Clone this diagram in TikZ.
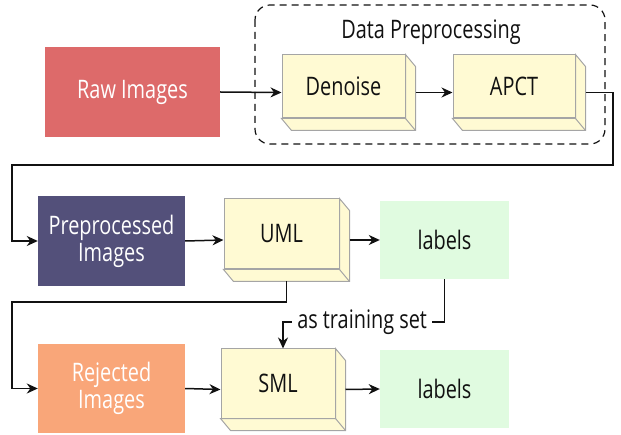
\documentclass[tikz,border=0pt]{standalone}
\usepackage{fontspec}
\setmainfont[FakeStretch=0.78]{Open Sans}
\usetikzlibrary{arrows.meta}
\definecolor{rawred}{HTML}{DD6A6A}
\definecolor{prepurple}{HTML}{53507A}
\definecolor{rejorange}{HTML}{F9A679}
\definecolor{labgreen}{HTML}{E0FBE0}
\definecolor{cubefill}{HTML}{FFFAD3}
\definecolor{cubeedge}{HTML}{A5A5A5}
\definecolor{ink}{HTML}{111111}
\newcommand\cubeside[1]{%
  \filldraw[fill=cubefill,draw=cubeedge,line width=1pt] (#1.north east) -- ++(10,12)
    -- ([shift={(10,12)}]#1.south east) -- ([shift={(10,12)}]#1.south west)
    -- (#1.south west) -- (#1.south east) -- cycle;
  \draw[cubeedge,line width=1pt] (#1.south east) -- ++(10,12);}

\begin{document}
\begin{tikzpicture}[x=1pt,y=-1pt,
  every node/.style={font=\fontsize{25.5}{27}\selectfont,text=ink,inner sep=0pt},
  flatbox/.style={minimum width=#1,text=white,align=center},
  cubebox/.style={fill=cubefill,draw=cubeedge,line width=1pt},
  flow/.style={draw=ink,line width=1.5pt,-{Stealth[length=11pt,width=10pt,inset=3.5pt]}}]

\useasboundingbox (0,0) rectangle (621,435);

% preprocessing group
\draw[ink,line width=1.2pt,dash pattern=on 7pt off 5pt,rounded corners=15pt] (255,5) rectangle (605,144);
\node[anchor=base] (group) at (431,39) {Data Preprocessing};

\node[flatbox=175pt,minimum height=90pt,fill=rawred] (raw) at (132.5,92) {Raw Images};
\node[cubebox,minimum width=123pt,minimum height=63pt] (denoise) at (343.5,86.5) {Denoise};
\node[cubebox,minimum width=122pt,minimum height=63pt] (apct) at (514,86.5) {APCT};
\cubeside{denoise}
\cubeside{apct}

\node[flatbox=147pt,minimum height=90pt,fill=prepurple] (pre) at (111.5,241) {Preprocessed\\Images};
\node[cubebox,minimum width=115pt,minimum height=70pt] (uml) at (281.5,234) {UML};
\node[minimum width=129pt,minimum height=78pt,fill=labgreen] (lab1) at (444.5,240) {labels};
\cubeside{uml}

\node[flatbox=147pt,minimum height=89pt,fill=rejorange] (rej) at (111.5,388.5) {Rejected\\Images};
\node[cubebox,minimum width=114pt,minimum height=69pt] (sml) at (278,383.5) {SML};
\node[minimum width=129pt,minimum height=78pt,fill=labgreen] (lab2) at (444.5,389) {labels};
\cubeside{sml}

\coordinate (railA) at (613,165);
\coordinate (railB) at (12,165);
\coordinate (railC) at (12,302);
\coordinate (bendT) at (283,322);

\draw[flow] (raw.east) -- ([yshift=-6pt]denoise.west);
\draw[flow] ([xshift=10pt,yshift=-6pt]denoise.east) -- ([yshift=-6pt]apct.west);
\draw[flow] ([xshift=10pt,yshift=-6pt]apct.east) -| (railA) -- (railB) |- (pre.west);
\draw[flow] (pre.east) -- ([yshift=-6pt]uml.west);
\draw[flow] ([xshift=10pt,yshift=-6pt]uml.east) -- (lab1.west);
\draw[flow] ([xshift=5pt,yshift=-12pt]uml.south) |- (railC) |- (rej.west);
\draw[flow] (lab1.south) |- node[pos=0.755,fill=white,inner xsep=5pt,inner ysep=2pt] (train) {as training set} (bendT) -- ([xshift=5pt]sml.north);
\draw[flow] (rej.east) -- ([yshift=-6pt]sml.west);
\draw[flow] ([xshift=10pt,yshift=-6pt]sml.east) -- (lab2.west);

\end{tikzpicture}
\end{document}
